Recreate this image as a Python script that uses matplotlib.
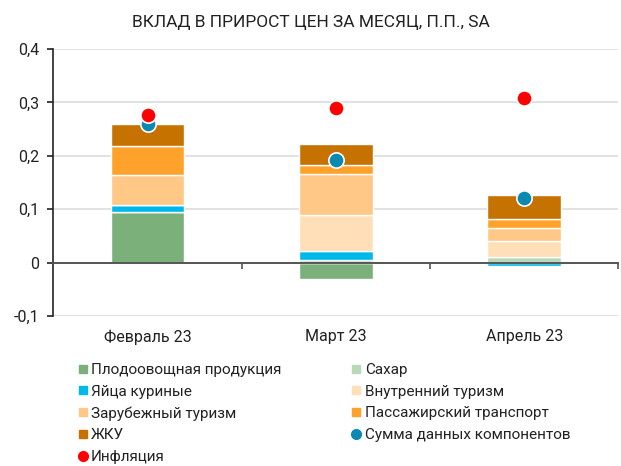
import numpy as np
import matplotlib.pyplot as plt
from matplotlib.lines import Line2D

plt.rcParams['font.family'] = ['Roboto', 'DejaVu Sans']

# ── data ─────────────────────────────────────────────────────────────
months = ["Февраль 23", "Март 23", "Апрель 23"]

components = [
    "Плодоовощная продукция",
    "Сахар",
    "Яйца куриные",
    "Внутренний туризм",
    "Зарубежный туризм",
    "Пассажирский транспорт",
    "ЖКУ",
]
fruit_veg = [0.095, -0.031, 0.0]
sugar = [0.0, 0.004, 0.010]
eggs = [0.013, 0.017, -0.006]
domestic_tourism = [0.0, 0.068, 0.031]
foreign_tourism = [0.056, 0.077, 0.023]
transport = [0.054, 0.016, 0.017]
housing = [0.042, 0.040, 0.045]

components_sum = [0.259, 0.193, 0.121]
inflation = [0.277, 0.289, 0.309]

colors = ["#7bb07b", "#b8d9b8", "#00b9ea", "#ffdfb8", "#ffc886", "#ffa22c", "#c57200"]
sum_color = "#0b89b1"
infl_color = "#ff0000"


def main() -> None:
    fig = plt.figure(figsize=(6.21, 4.66), dpi=100)
    ax = fig.add_axes([0.0859, 0.3219, 0.9099, 0.5729])

    x = np.arange(len(months))
    series = [fruit_veg, sugar, eggs, domestic_tourism, foreign_tourism, transport, housing]

    pos_bottom = np.zeros(len(months))
    neg_bottom = np.zeros(len(months))
    bar_handles = []
    for name, vals, col in zip(components, series, colors):
        vals = np.array(vals)
        bottom = np.where(vals >= 0, pos_bottom, neg_bottom)
        ax.bar(x, vals, width=0.39, bottom=bottom, color=col,
               edgecolor="white", linewidth=1.0, zorder=2)
        pos_bottom += np.where(vals > 0, vals, 0)
        neg_bottom += np.where(vals < 0, vals, 0)
        bar_handles.append(Line2D([], [], marker="s", ls="", color=col,
                                  markersize=5.5, label=name))

    ax.plot(x, components_sum, "o", color=sum_color, markersize=11,
            markeredgecolor="white", markeredgewidth=1.2, zorder=4)
    ax.plot(x, inflation, "o", color=infl_color, markersize=11,
            markeredgecolor="white", markeredgewidth=1.2, zorder=5)

    # axes styling
    ax.set_xlim(-0.5, len(months) - 0.5)
    ax.set_ylim(-0.1, 0.4)
    yticks = [-0.1, 0, 0.1, 0.2, 0.3, 0.4]
    ax.set_yticks(yticks)
    ax.set_yticklabels([("%g" % t).replace(".", ",") for t in yticks])
    ax.tick_params(axis="y", direction="out", length=4, width=1.2,
                   color="#222222", labelsize=11.5, labelcolor="#222222", pad=6)
    ax.grid(axis="y", color="#dddddd", linewidth=1.2, zorder=0)
    ax.set_axisbelow(True)

    for side in ["top", "right"]:
        ax.spines[side].set_visible(False)
    ax.spines["left"].set_color("#222222")
    ax.spines["left"].set_linewidth(1.2)
    ax.spines["bottom"].set_position(("data", 0))
    ax.spines["bottom"].set_color("#555555")
    ax.spines["bottom"].set_linewidth(1.4)
    ax.spines["bottom"].set_zorder(3)

    ax.set_xticks(x + 0.5)
    ax.set_xticklabels([])
    ax.tick_params(axis="x", direction="out", length=4, width=1.2, color="#555555")
    for xi, label in zip(x, months):
        ax.text(xi, -0.125, label, transform=ax.transData, ha="center", va="top",
                fontsize=11.5, color="#222222", clip_on=False)

    fig.text(0.5, 1 - 22 / 466, "ВКЛАД В ПРИРОСТ ЦЕН ЗА МЕСЯЦ, П.П., SA",
             ha="center", va="center", fontsize=12.5, color="#222222")

    # legend: row-major order in two columns
    sum_h = Line2D([], [], marker="o", ls="", color=sum_color, markersize=7,
                   label="Сумма данных компонентов")
    infl_h = Line2D([], [], marker="o", ls="", color=infl_color, markersize=7,
                    label="Инфляция")
    col1 = [bar_handles[0], bar_handles[2], bar_handles[4], bar_handles[6], infl_h]
    col2 = [bar_handles[1], bar_handles[3], bar_handles[5], sum_h]
    handles = col1 + col2
    fig.legend(handles=handles, labels=[h.get_label() for h in handles],
               loc="upper left", bbox_to_anchor=(0.127, 1 - 363 / 466),
               ncol=2, frameon=False, fontsize=11, handlelength=0.5,
               handletextpad=0.3, columnspacing=4.65, labelspacing=0.5,
               borderaxespad=0, borderpad=0, labelcolor="#222222")

    fig.savefig("out.png", dpi=100)


if __name__ == "__main__":
    main()
